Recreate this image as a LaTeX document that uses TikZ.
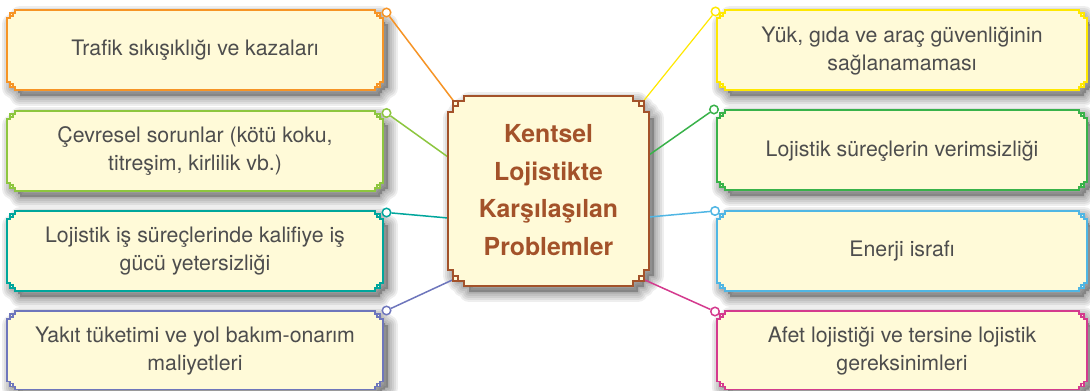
\documentclass[tikz,border=0pt]{standalone}
\usepackage{fontspec}
\setmainfont{TeX Gyre Heros}

\definecolor{boxfill}{RGB}{255,250,216}
\definecolor{bodytext}{RGB}{77,77,77}
\definecolor{titlebrown}{RGB}{163,82,42}
\definecolor{cOrange}{RGB}{246,148,38}
\definecolor{cLime}{RGB}{141,198,63}
\definecolor{cTeal}{RGB}{0,166,156}
\definecolor{cViolet}{RGB}{110,118,188}
\definecolor{cYellow}{RGB}{255,232,0}
\definecolor{cGreen}{RGB}{57,178,74}
\definecolor{cSky}{RGB}{80,182,228}
\definecolor{cMagenta}{RGB}{212,58,142}

\pgfdeclarelayer{paperlayer}
\pgfdeclarelayer{shadowlayer}
\pgfdeclarelayer{wirelayer}
\pgfsetlayers{paperlayer,shadowlayer,wirelayer,main}

% size of the stepped corner: step length, inner square from p to q
\newcommand\fretn{8}
\newcommand\fretp{3}
\newcommand\fretq{6}

% outline of a rectangle with stepped corners, L T R B
\newcommand\fretoutline[4]{%
 (#1,#2+\fretn) -- (#1+\fretp,#2+\fretn) -- (#1+\fretp,#2+\fretq) -- (#1+\fretq,#2+\fretq) -- (#1+\fretq,#2+\fretp) -- (#1+\fretn,#2+\fretp) -- (#1+\fretn,#2)
 -- (#3-\fretn,#2) -- (#3-\fretn,#2+\fretp) -- (#3-\fretq,#2+\fretp) -- (#3-\fretq,#2+\fretq) -- (#3-\fretp,#2+\fretq) -- (#3-\fretp,#2+\fretn) -- (#3,#2+\fretn)
 -- (#3,#4-\fretn) -- (#3-\fretp,#4-\fretn) -- (#3-\fretp,#4-\fretq) -- (#3-\fretq,#4-\fretq) -- (#3-\fretq,#4-\fretp) -- (#3-\fretn,#4-\fretp) -- (#3-\fretn,#4)
 -- (#1+\fretn,#4) -- (#1+\fretn,#4-\fretp) -- (#1+\fretq,#4-\fretp) -- (#1+\fretq,#4-\fretq) -- (#1+\fretp,#4-\fretq) -- (#1+\fretp,#4-\fretn) -- (#1,#4-\fretn) -- cycle}

% the four small corner squares
\newcommand\fretsquares[4]{%
 (#1+\fretp,#2+\fretp) rectangle (#1+\fretq,#2+\fretq)
 (#3-\fretq,#2+\fretp) rectangle (#3-\fretp,#2+\fretq)
 (#3-\fretq,#4-\fretq) rectangle (#3-\fretp,#4-\fretp)
 (#1+\fretp,#4-\fretq) rectangle (#1+\fretq,#4-\fretp)}

% soft shadow: a shifted copy filled, plus widening translucent strokes
\newcommand\fretshadow[4]{%
 \fill[shadowcore] \fretoutline{#1}{#2}{#3}{#4};
 \foreach \w in {4,8,12,16,20}{%
  \draw[shadowhalo, line width=\w pt] \fretoutline{#1}{#2}{#3}{#4};}
}

% framed box: [line width] colour, L, T, R, B
\newcommand\fretbox[6][1.6pt]{%
 \begin{pgfonlayer}{shadowlayer}
  \fretshadow{#3}{#4}{#5}{#6}
 \end{pgfonlayer}
 \draw[fretline, line width=#1, draw=#2] \fretoutline{#3}{#4}{#5}{#6};
 \draw[fretline, line width=#1, draw=#2] \fretsquares{#3}{#4}{#5}{#6};
}

\tikzset{
 shadowcore/.style={black, opacity=0.25, shift={(5,6)}},
 shadowhalo/.style={black, opacity=0.065, line join=round, shift={(5,6)}},
 fretline/.style={fill=boxfill, line join=miter},
 sidetext/.style={text=bodytext, align=center, inner sep=0pt,
   font=\fontsize{21.3}{28}\selectfont},
 titletext/.style={text=titlebrown, align=center, inner sep=0pt,
   font=\bfseries\fontsize{24.8}{37.8}\selectfont},
 pinring/.style={circle, draw=#1, fill=white, line width=1.5pt,
   inner sep=0pt, minimum size=8.5pt},
 wire/.style={draw=#1, line width=1.5pt},
}

\begin{document}
\begin{tikzpicture}[x=1pt, y=-1pt]
\useasboundingbox (0,0) rectangle (1090,391);
\begin{pgfonlayer}{paperlayer}
\fill[white] (0,0) rectangle (1090,391);
\end{pgfonlayer}

% left column
\fretbox{cOrange}{7}{10}{383}{90}
\fretbox{cLime}{7}{111}{383}{191}
\fretbox{cTeal}{7}{211}{383}{291}
\fretbox{cViolet}{7}{311}{383}{389.5}
% right column
\fretbox{cYellow}{717}{10}{1087}{90}
\fretbox{cGreen}{717}{110}{1087}{190}
\fretbox{cSky}{717}{211}{1087}{291}
\fretbox{cMagenta}{717}{311}{1087}{389.5}
% central box
\renewcommand\fretn{16}\renewcommand\fretp{5}\renewcommand\fretq{10}
\fretbox[2.2pt]{titlebrown}{448}{96}{649}{286}

% texts
\node[sidetext] (l1) at (195,50) {Trafik sıkışıklığı ve kazaları};
\node[sidetext] (l2) at (195,151) {Çevresel sorunlar (kötü koku,\\titreşim, kirlilik vb.)};
\node[sidetext] (l3) at (195,251) {Lojistik iş süreçlerinde kalifiye iş\\gücü yetersizliği};
\node[sidetext] (l4) at (195,351) {Yakıt tüketimi ve yol bakım-onarım\\maliyetleri};
\node[sidetext] (r1) at (902,51) {Yük, gıda ve araç güvenliğinin\\sağlanamaması};
\node[sidetext] (r2) at (902,151) {Lojistik süreçlerin verimsizliği};
\node[sidetext] (r3) at (902,251) {Enerji israfı};
\node[sidetext] (r4) at (902,351) {Afet lojistiği ve tersine lojistik\\gereksinimleri};
\node[titletext] (cb) at (548.5,190) {Kentsel\\Lojistikte\\Karşılaşılan\\Problemler};

% attachment points on the central box
\coordinate (cbtl) at (455.5,103.5);
\coordinate (cbtr) at (641.5,103.5);
\coordinate (cbbl) at (455.5,278.5);
\coordinate (cbbr) at (641.5,278.5);
\coordinate (cbl1) at (448,157);
\coordinate (cbl2) at (448,218);
\coordinate (cbr1) at (649,155);
\coordinate (cbr2) at (649,217);

% rings at the box corners
\node[pinring=cOrange]  (p1) at (386.5,12.5) {};
\node[pinring=cLime]    (p2) at (386.5,113) {};
\node[pinring=cTeal]    (p3) at (386.5,212.5) {};
\node[pinring=cViolet]  (p4) at (386.5,310.5) {};
\node[pinring=cYellow]  (q1) at (715.5,11.5) {};
\node[pinring=cGreen]   (q2) at (714,109.5) {};
\node[pinring=cSky]     (q3) at (715,211) {};
\node[pinring=cMagenta] (q4) at (715,311.5) {};

% connectors
\begin{pgfonlayer}{wirelayer}
\draw[wire=cOrange]  (p1) -- (cbtl);
\draw[wire=cLime]    (p2) -- (cbl1);
\draw[wire=cTeal]    (p3) -- (cbl2);
\draw[wire=cViolet]  (p4) -- (cbbl);
\draw[wire=cYellow, line width=1.2pt] (q1) -- (cbtr);
\draw[wire=cGreen]   (q2) -- (cbr1);
\draw[wire=cSky]     (q3) -- (cbr2);
\draw[wire=cMagenta] (q4) -- (cbbr);
\end{pgfonlayer}
\end{tikzpicture}
\end{document}
